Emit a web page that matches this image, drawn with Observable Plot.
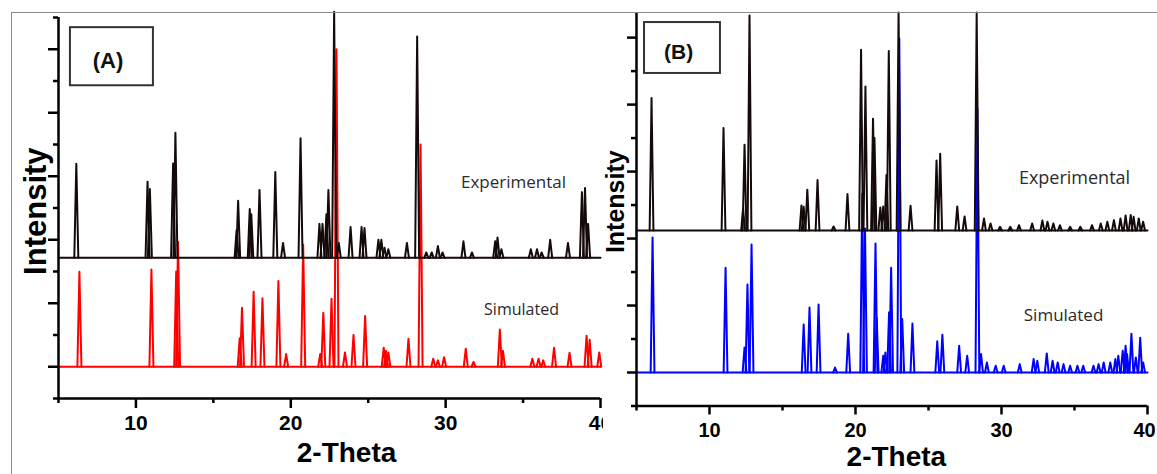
<!DOCTYPE html>
<html><head><meta charset="utf-8">
<script src="https://cdn.jsdelivr.net/npm/d3@7"></script>
<script src="https://cdn.jsdelivr.net/npm/@observablehq/plot@0.6"></script>
<style>
body{margin:0;background:#fff;}
#wrap{position:relative;width:1157px;height:474px;overflow:hidden;background:#fff;}
#pa{position:absolute;left:0;top:0;}
#pb{position:absolute;left:603px;top:12px;}
#frame{position:absolute;left:11px;top:12px;width:1200px;height:500px;border-left:1.5px solid #8a8a8a;border-top:1.5px solid #8a8a8a;pointer-events:none;}
</style></head><body>
<div id="wrap"><div id="pa"></div><div id="pb"></div><div id="frame"></div></div>
<script>
// ---- data: [2-theta, peak top (offset intensity units)] ----
const xDomain = [5, 40];
const xMajorTicks = [10, 20, 30, 40];
const xMinorTicks = [5, 15, 25, 35];
const yMajorTicks = [0, 2, 4, 6, 8, 10];
const yMinorTicks = [-1, 1, 3, 5, 7, 9, 11];

const expA_base = 3.43;
const expA = [[6.15,6.39],[10.75,5.83],[10.9,5.6],[12.4,6.4],[12.55,7.37],[16.5,4.3],[16.6,5.23],[17.35,4.97],[17.45,4.8],[17.98,5.57],[19.0,6.13],[19.5,3.9],[20.63,7.2],[21.85,4.5],[22.05,4.5],[22.3,4.8],[22.43,5.57],[22.8,11.18],[23.1,3.9],[23.86,4.4],[24.57,4.4],[24.76,4.37],[25.66,4.0],[25.85,4.0],[26.05,3.75],[26.3,3.7],[27.5,3.9],[28.16,10.4],[28.75,3.6],[29.1,3.6],[29.5,3.8],[29.8,3.6],[31.15,3.95],[31.7,3.6],[33.2,3.95],[33.35,4.07],[33.6,3.7],[35.5,3.7],[35.9,3.7],[36.2,3.6],[36.75,4.0],[37.9,3.9],[38.8,5.5],[39.0,5.63],[39.2,4.5]];

const simA_base = 0;
const simA = [[6.35,2.99],[11.0,3.06],[12.6,3.0],[12.72,3.94],[16.7,0.9],[16.85,1.86],[17.6,2.36],[18.17,2.16],[19.2,2.7],[19.7,0.4],[20.8,3.84],[21.9,0.4],[22.1,1.7],[22.63,2.14],[22.95,10.0],[23.5,0.45],[24.05,1.0],[24.8,1.6],[26.0,0.6],[26.15,0.5],[26.3,0.45],[27.6,0.88],[28.38,7.0],[29.2,0.25],[29.5,0.2],[29.9,0.3],[31.3,0.57],[31.8,0.15],[33.5,1.17],[33.7,0.5],[35.6,0.25],[36.0,0.25],[36.3,0.2],[37.0,0.6],[38.0,0.44],[39.1,0.98],[39.3,0.85],[39.92,0.45]];

const expB_base = 4.24;
const expB = [[6.03,8.2],[10.96,7.3],[12.3,4.9],[12.4,6.8],[12.74,10.66],[16.3,4.99],[16.45,4.95],[16.7,5.46],[17.4,5.75],[18.5,4.36],[19.45,5.33],[20.38,9.64],[20.68,8.54],[21.2,7.58],[21.3,7.0],[21.7,4.93],[21.9,4.96],[22.12,5.9],[22.28,9.6],[22.95,10.75],[23.77,4.98],[25.55,6.33],[25.8,6.53],[26.97,4.96],[27.47,4.66],[28.3,10.75],[28.8,4.6],[29.25,4.45],[29.9,4.35],[30.6,4.35],[31.2,4.4],[32.1,4.45],[32.8,4.54],[33.15,4.5],[33.55,4.45],[34.0,4.4],[34.7,4.35],[35.4,4.35],[36.2,4.4],[36.8,4.45],[37.25,4.5],[37.7,4.55],[38.15,4.6],[38.5,4.69],[38.85,4.7],[39.05,4.65],[39.4,4.6],[39.7,4.5]];

const simB_base = 0;
const simB = [[6.1,4.03],[11.1,3.13],[12.4,0.75],[12.6,2.63],[12.88,3.82],[16.45,1.43],[16.85,1.94],[17.47,2.03],[18.6,0.15],[19.5,1.16],[20.46,5.34],[20.65,4.3],[21.37,3.85],[21.45,1.64],[21.9,0.5],[22.05,0.6],[22.3,1.8],[22.44,3.13],[23.0,9.97],[23.2,1.6],[23.9,1.46],[25.6,0.93],[25.95,1.13],[27.1,0.8],[27.65,0.5],[28.35,7.9],[28.6,0.55],[29.0,0.3],[29.6,0.2],[30.15,0.2],[31.25,0.25],[32.2,0.4],[32.45,0.35],[33.1,0.57],[33.5,0.35],[33.85,0.3],[34.25,0.25],[34.7,0.2],[35.2,0.2],[35.6,0.2],[36.3,0.2],[36.65,0.25],[37.0,0.3],[37.45,0.3],[37.8,0.4],[38.0,0.5],[38.3,0.65],[38.5,0.8],[38.6,0.55],[38.9,1.16],[39.2,0.45],[39.5,1.04],[39.7,0.3]];

// ---- helpers ----
const HW = 0.13; // peak half-width at foot (drawing style)
function peakRows(peaks, base) {
  const rows = [];
  peaks.forEach(([t, top], i) => {
    rows.push({id: i, x: t - HW, y: base}, {id: i, x: t, y: top}, {id: i, x: t + HW, y: base});
  });
  return rows;
}
function baseRows(base) { return xDomain.map(x => ({x, y: base})); }
function pattern(peaks, base, color) {
  return [
    Plot.line(baseRows(base), {x: "x", y: "y", stroke: color, strokeWidth: 2}),
    Plot.line(peakRows(peaks, base), {x: "x", y: "y", z: "id", stroke: color, strokeWidth: 2, strokeLinejoin: "round"})
  ];
}
function axes(yDom, yMinor, majorLen, fs, pad, lastDx) {
  const inner = xMajorTicks.slice(0, -1), last = xMajorTicks.slice(-1);
  const lab = {anchor: "bottom", tickSize: majorLen, strokeWidth: 2.5, stroke: "#000", tickPadding: pad, fontSize: fs, fontWeight: "bold", fill: "#000", label: null};
  return [
    Plot.ruleX([xDomain[0]], {y1: yDom[0], y2: yDom[1], stroke: "#000", strokeWidth: 2.5}),
    Plot.ruleY([yDom[0]], {x1: xDomain[0], x2: xDomain[1], stroke: "#000", strokeWidth: 2.5}),
    Plot.axisY(yMajorTicks, {anchor: "left", tickSize: majorLen, strokeWidth: 2.5, stroke: "#000", tickFormat: () => "", label: null}),
    Plot.axisY(yMinor, {anchor: "left", tickSize: 5, strokeWidth: 2.5, stroke: "#000", tickFormat: () => "", label: null}),
    Plot.axisX(xMinorTicks, {anchor: "bottom", tickSize: 5, strokeWidth: 2.5, stroke: "#000", tickFormat: () => "", label: null}),
    Plot.axisX(xMajorTicks, {anchor: "bottom", tickSize: majorLen, strokeWidth: 2.5, stroke: "#000", tickFormat: () => "", label: null}),
    Plot.axisX(inner, {...lab, tickSize: 0, tickPadding: majorLen + pad}),
    Plot.axisX(last, {...lab, tickSize: 0, tickPadding: majorLen + pad, dx: lastDx})
  ];
}
const boldFont = "'Liberation Sans', Arial, sans-serif";
const lightFont = "'Open Sans', 'Noto Sans', sans-serif";

// ---- panel A ----
const yDomA = [-1, 11];
const plotA = Plot.plot({
  width: 603, height: 474,
  marginLeft: 58, marginRight: 3, marginTop: 17, marginBottom: 76,
  x: {domain: xDomain, axis: null},
  y: {domain: yDomA, axis: null},
  style: {fontFamily: boldFont, background: "transparent", overflow: "visible"},
  marks: [
    ...pattern(simA, simA_base, "#ff0000"),
    ...pattern(expA, expA_base, "#150a0a"),
    ...axes(yDomA, yMinorTicks, 10, 21, 7, 0),
    Plot.text([{x: 23.6, t: "2-Theta"}], {x: "x", text: "t", frameAnchor: "bottom", dy: 55, fontSize: 28, fontWeight: "bold", lineAnchor: "middle", fill: "#000"}),
    Plot.text([{y: 4.9, t: "Intensity"}], {y: "y", text: "t", frameAnchor: "left", dx: -22, rotate: -90, fontSize: 31, fontWeight: "bold", lineAnchor: "middle", textAnchor: "middle", fill: "#000"}),
    Plot.text([{x: 34.38, y: 5.8, t: "Experimental"}], {x: "x", y: "y", text: "t", fontFamily: lightFont, fontSize: 17, fill: "#2b2b2b", lineAnchor: "middle"}),
    Plot.text([{x: 34.9, y: 1.8, t: "Simulated"}], {x: "x", y: "y", text: "t", fontFamily: lightFont, fontSize: 16, fill: "#2b2b2b", lineAnchor: "middle"}),
    Plot.rect([{x1: 5.77, x2: 11.13, y1: 8.85, y2: 10.68}], {x1: "x1", x2: "x2", y1: "y1", y2: "y2", fill: "none", stroke: "#333", strokeWidth: 2}),
    Plot.text([{x: 8.2, y: 9.64, t: "(A)"}], {x: "x", y: "y", text: "t", fontSize: 22, fontWeight: "bold", fill: "#111", lineAnchor: "middle"})
  ]
});
document.getElementById("pa").append(plotA);

// ---- panel B ----
const yDomB = [-1, 10.75];
const plotB = Plot.plot({
  width: 554, height: 462,
  marginLeft: 33, marginRight: 10, marginTop: 0, marginBottom: 68.5,
  x: {domain: xDomain, axis: null},
  y: {domain: yDomB, axis: null},
  style: {fontFamily: boldFont, background: "#fff", overflow: "visible"},
  marks: [
    ...pattern(simB, simB_base, "#0000ff"),
    ...pattern(expB, expB_base, "#150a0a"),
    ...axes(yDomB, yMinorTicks.filter(d => d <= yDomB[1]), 9, 20, 8, -3),
    Plot.text([{x: 22.8, t: "2-Theta"}], {x: "x", text: "t", frameAnchor: "bottom", dy: 51.5, fontSize: 28, fontWeight: "bold", lineAnchor: "middle", fill: "#000"}),
    Plot.text([{y: 5.1, t: "Intensity"}], {y: "y", text: "t", frameAnchor: "left", dx: -21, rotate: -90, fontSize: 25, fontWeight: "bold", lineAnchor: "middle", textAnchor: "middle", fill: "#000"}),
    Plot.text([{x: 35.0, y: 5.79, t: "Experimental"}], {x: "x", y: "y", text: "t", fontFamily: lightFont, fontSize: 18, fill: "#2b2b2b", lineAnchor: "middle"}),
    Plot.text([{x: 34.25, y: 1.7, t: "Simulated"}], {x: "x", y: "y", text: "t", fontFamily: lightFont, fontSize: 17, fill: "#2b2b2b", lineAnchor: "middle"}),
    Plot.rect([{x1: 5.55, x2: 10.75, y1: 8.93, y2: 10.45}], {x1: "x1", x2: "x2", y1: "y1", y2: "y2", fill: "none", stroke: "#333", strokeWidth: 2}),
    Plot.text([{x: 7.88, y: 9.55, t: "(B)"}], {x: "x", y: "y", text: "t", fontSize: 21, fontWeight: "bold", fill: "#111", lineAnchor: "middle"})
  ]
});
document.getElementById("pb").append(plotB);
</script>
</body></html>
